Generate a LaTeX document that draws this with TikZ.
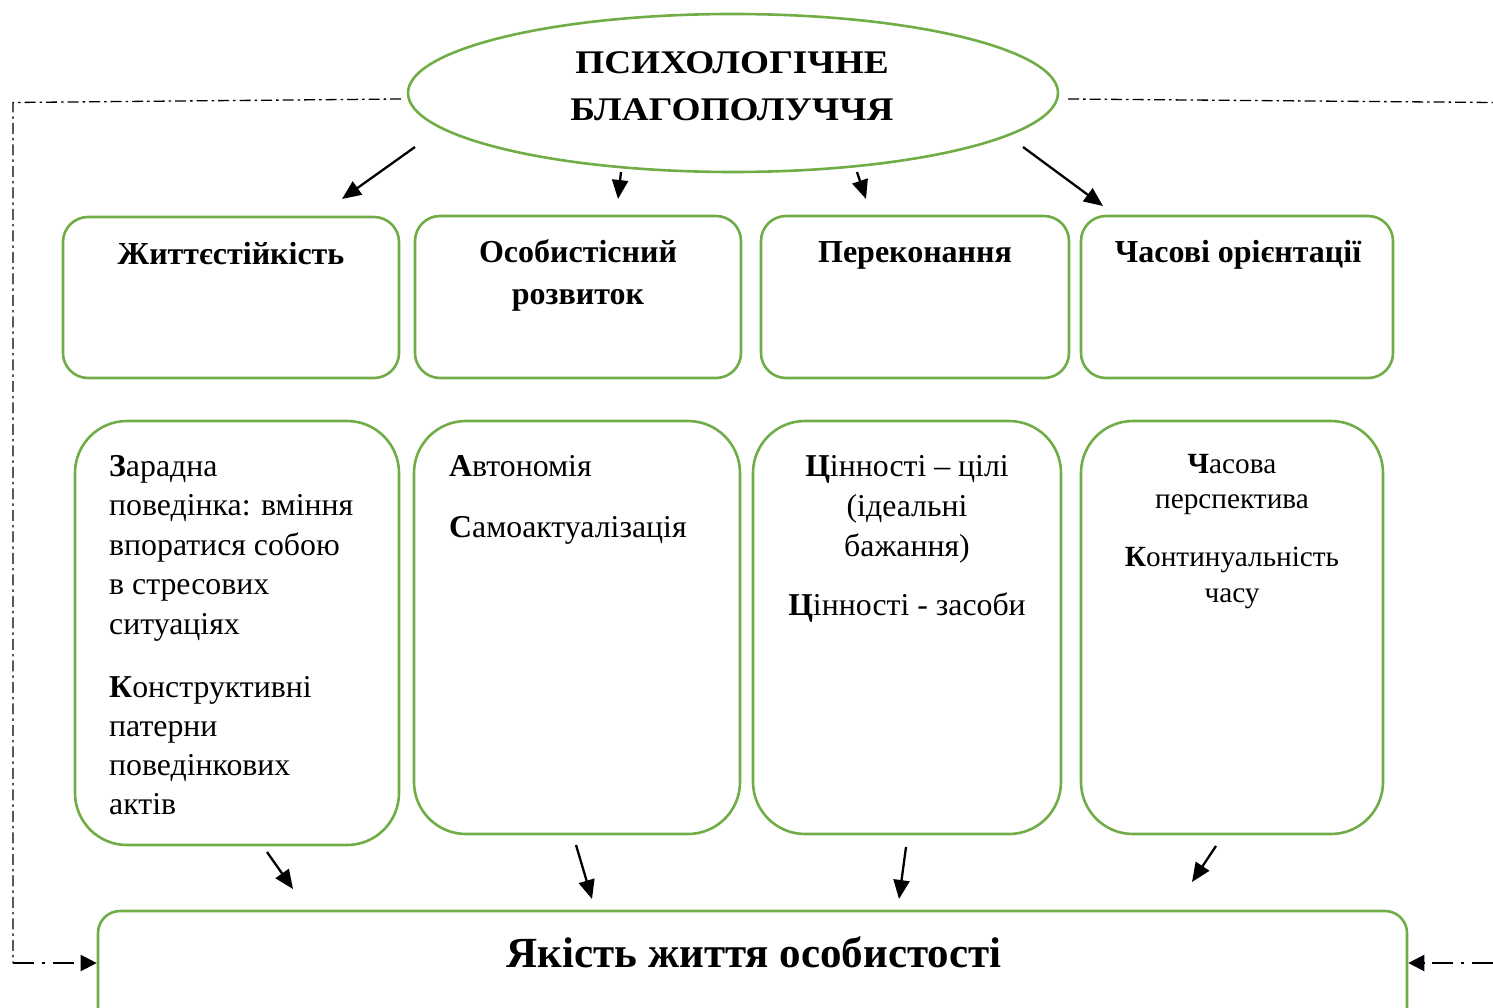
\documentclass[tikz,border=0pt]{standalone}
\usepackage{fontspec}
\usepackage{graphicx}
\setmainfont{Liberation Serif}
\usetikzlibrary{arrows.meta,shapes.geometric,calc}
\definecolor{grn}{HTML}{70AD47}
\begin{document}
\begin{tikzpicture}[x=1pt,y=-1pt,
  topbox/.style={draw=grn,line width=2.6pt,rounded corners=25pt,inner sep=0pt},
  lowbox/.style={draw=grn,line width=2.6pt,rounded corners=52pt,inner sep=0pt},
  qbox/.style={draw=grn,line width=2.6pt,rounded corners=22pt,inner sep=0pt},
  arr/.style={line width=2.3pt,-{Triangle[length=19pt,width=16pt]}},
  dd/.style={line width=1.3pt,black,dash pattern=on 11pt off 4pt on 2.5pt off 4pt},
  ddarr/.style={line width=2.2pt,dash pattern=on 21pt off 8pt on 3pt off 8pt,-{Triangle[length=16pt,width=16pt]}},
  ttl/.style={font=\bfseries\fontsize{32}{38}\selectfont,anchor=base,inner sep=0pt},
  ell/.style={font=\bfseries\fontsize{33}{38}\selectfont,anchor=base,inner sep=0pt},
  txl/.style={font=\fontsize{31.8}{38}\selectfont,anchor=base west,inner sep=0pt},
  txc/.style={font=\fontsize{31.8}{38}\selectfont,anchor=base,inner sep=0pt},
  txs/.style={font=\fontsize{29.3}{34}\selectfont,anchor=base,inner sep=0pt},
  big/.style={font=\bfseries\fontsize{43}{50}\selectfont,anchor=base,inner sep=0pt}
]
\useasboundingbox (0,0) rectangle (1493,1008);

% central ellipse
\node[draw=grn,line width=2.6pt,ellipse,minimum width=650pt,minimum height=158pt] (E) at (733,93) {};
\node[ell] (E1) at (732,74) {\scalebox{1.13}[1]{ПСИХОЛОГІЧНЕ}};
\node[ell] (E2) at (732,121) {\scalebox{1.13}[1]{БЛАГОПОЛУЧЧЯ}};

% top boxes
\node[topbox,minimum width=336pt,minimum height=161pt] (T1) at (231,297.5) {};
\node[topbox,minimum width=326pt,minimum height=162pt] (T2) at (578,297) {};
\node[topbox,minimum width=308pt,minimum height=162pt] (T3) at (915,297) {};
\node[topbox,minimum width=312pt,minimum height=162pt] (T4) at (1237,297) {};
\node[ttl] (T1a) at (231,265) {Життєстійкість};
\node[ttl] (T2a) at (578,263) {Особистісний};
\node[ttl] (T2b) at (578,304) {розвиток};
\node[ttl] (T3a) at (915,263) {Переконання};
\node[ttl] (T4a) at (1238,263) {Часові орієнтації};

% lower boxes
\node[lowbox,minimum width=324pt,minimum height=424pt] (L1) at (237,633) {};
\node[lowbox,minimum width=326pt,minimum height=413pt] (L2) at (577,627.5) {};
\node[lowbox,minimum width=308pt,minimum height=413pt] (L3) at (907,627.5) {};
\node[lowbox,minimum width=302pt,minimum height=413pt] (L4) at (1232,627.5) {};

\node[txl] (L1a) at (109,476) {\textbf{З}арадна};
\node[txl] (L1b) at (109,515.5) {поведінка: вміння};
\node[txl] (L1c) at (109,555) {впоратися собою};
\node[txl] (L1d) at (109,594.5) {в стресових};
\node[txl] (L1e) at (109,634) {ситуаціях};
\node[txl] (L1f) at (109,697) {\textbf{К}онструктивні};
\node[txl] (L1g) at (109,736) {патерни};
\node[txl] (L1h) at (109,775) {поведінкових};
\node[txl] (L1i) at (109,814) {актів};

\node[txl] (L2a) at (449,476) {\textbf{А}втономія};
\node[txl] (L2b) at (449,537) {\textbf{С}амоактуалізація};

\node[txc] (L3a) at (907,476) {\textbf{Ц}інності – цілі};
\node[txc] (L3b) at (907,516) {(ідеальні};
\node[txc] (L3c) at (907,556) {бажання)};
\node[txc] (L3d) at (907,615) {\textbf{Ц}інності - засоби};

\node[txs] (L4a) at (1232,473) {\textbf{Ч}асова};
\node[txs] (L4b) at (1232,508) {перспектива};
\node[txs] (L4c) at (1232,566) {\textbf{К}онтинуальність};
\node[txs] (L4d) at (1232,602) {часу};

% bottom box
\node[qbox,minimum width=1309pt,minimum height=140pt] (Q) at (752.5,981) {};
\node[big] (Qa) at (754,967) {Якість життя особистості};

% arrow end points
\coordinate (a1s) at (415,147); \coordinate (a1e) at (342,199);
\coordinate (a2s) at (621,172); \coordinate (a2e) at (618,199);
\coordinate (a3s) at (857,172); \coordinate (a3e) at (866,199);
\coordinate (a4s) at (1023,147); \coordinate (a4e) at (1103,206);
\coordinate (b1s) at (267,852); \coordinate (b1e) at (293,889);
\coordinate (b2s) at (576,845); \coordinate (b2e) at (592,899);
\coordinate (b3s) at (906,847); \coordinate (b3e) at (899,899);
\coordinate (b4s) at (1216,846); \coordinate (b4e) at (1192,882);

\draw[arr] (a1s) -- (a1e);
\draw[arr] (a2s) -- (a2e);
\draw[arr] (a3s) -- (a3e);
\draw[arr] (a4s) -- (a4e);
\draw[arr] (b1s) -- (b1e);
\draw[arr] (b2s) -- (b2e);
\draw[arr] (b3s) -- (b3e);
\draw[arr] (b4s) -- (b4e);

% feedback dash-dot lines
\coordinate (dL0) at (401,99);
\coordinate (dL1) at (13,102.5);
\coordinate (dL2) at (13,963);
\coordinate (dR0) at (1068,99);
\coordinate (dR1) at (1493,102.5);
\coordinate (dR2) at (1493,963);
\draw[dd] (dL0) -- (dL1) -- (dL2);
\draw[ddarr] (dL2) -- (Q.west |- dL2);
\draw[dd] (dR0) -- (dR1);
\draw[ddarr] (dR2) -- (Q.east |- dR2);
\end{tikzpicture}
\end{document}
